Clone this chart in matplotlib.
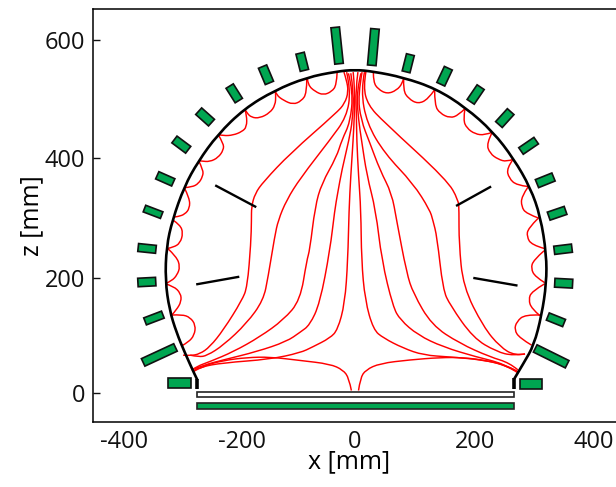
import numpy as np
import matplotlib
matplotlib.use("Agg")
import matplotlib.pyplot as plt
from matplotlib.path import Path
from matplotlib.patches import PathPatch, Rectangle

plt.rcParams['font.family'] = ['Open Sans', 'DejaVu Sans']

GREEN = '#00A651'
RED = '#FF0000'

x_tick_pos = [-388, -190, 0, 202, 402]
x_tick_labels = ['-400', '-200', '0', '200', '400']
z_tick_pos = [0, 195, 399, 599]
z_tick_labels = ['0', '200', '400', '600']

dome = [(-265,22),(-269,30),(-286,68),(-300,102),(-312,141),(-319,191),(-317,248),(-307,293),(-287,350),
        (-264,392),(-231,438),(-186,482),(-135,513),(-81,535),(-31,545),(0,548),(31,545),(81,535),
        (136,516),(186,484),(232,443),(267,397),(295,348),(312,299),(322,235),(322,186),(314,132),
        (301,81),(284,51),(268,24)]

scallops_left = [
 [(-30,543),(-31,522),(-39,511),(-53,505),(-67,511),(-79,522),(-80,533)],
 [(-81,533),(-81,508),(-90,495),(-104,489),(-120,496),(-132,505),(-134,512)],
 [(-134,512),(-133,505),(-134,488),(-143,475),(-160,466),(-174,467),(-182,475),(-185,481)],
 [(-185,481),(-182,471),(-182,451),(-190,443),(-205,437),(-221,436),(-230,438)],
 [(-230,438),(-221,423),(-221,412),(-230,399),(-244,392),(-258,393),(-263,394)],
 [(-263,394),(-255,378),(-256,367),(-263,355),(-274,349),(-287,348)],
 [(-287,348),(-278,330),(-278,313),(-286,303),(-297,299),(-305,298)],
 [(-306,293),(-294,285),(-289,271),(-294,254),(-305,247),(-315,245)],
 [(-315,245),(-300,231),(-294,214),(-299,200),(-308,190),(-319,185)],
 [(-319,185),(-305,181),(-293,169),(-292,155),(-300,141),(-308,132)],
 [(-308,132),(-291,133),(-277,128),(-268,115),(-270,98),(-280,86),(-291,80)],
]
scallops_right = [
 [(31,543),(31,527),(39,515),(54,507),(70,513),(80,525),(82,534)],
 [(82,534),(81,513),(90,499),(106,490),(123,498),(134,514)],
 [(134,514),(134,488),(143,474),(160,466),(174,471),(185,482)],
 [(185,482),(182,463),(188,449),(202,439),(218,437),(231,442)],
 [(231,442),(221,423),(227,406),(241,396),(255,392),(266,396)],
 [(266,396),(255,381),(259,364),(272,352),(291,350)],
 [(291,349),(280,333),(280,316),(288,304),(310,296)],
 [(308,296),(291,279),(289,265),(297,251),(318,245)],
 [(318,241),(300,225),(296,211),(303,197),(319,187)],
 [(319,185),(297,172),(292,158),(297,143),(311,131)],
 [(311,132),(286,133),(272,121),(268,107),(277,93),(297,81)],
]

field_left_1 = [(-18.5,544),(-14,530),(-11,511),(-17,491),(-31,475),(-109,406),(-154,358),(-168,338),(-174,316),
                (-174,293),(-175,254),(-181,180),(-190,157),(-221,107),(-244,78),(-261,66),(-277,63),(-289,64)]
field_left_2 = [(-14,544),(-7,513),(-14,468),(-42,429),(-92,364),(-115,327),(-129,293),(-135,265),(-146,197),
                (-154,157),(-182,118),(-221,81),(-249,63),(-263,61),(-277,64)]
field_left_3 = [(-11,542),(-3,510),(-8,459),(-22,429),(-31,400),(-56,355),(-67,316),(-76,242),(-81,225),(-92,157),
                (-120,124),(-160,95),(-204,70),(-244,53),(-266,45),(-274,39)]
field_left_4 = [(-7,542),(-2,510),(-4,463),(-10,429),(-22,378),(-29,339),(-34,310),(-42,242),(-59,152),(-76,115),
                (-92,103),(-115,87),(-165,70),(-221,56),(-255,47),(-269,41)]
field_left_5 = [(-3,544),(0,513),(-1,471),(-3,429),(-7,369),(-10,310),(-12,225),(-17,152),(-29,107),(-42,93),
                (-71,78),(-92,68),(-143,57),(-222,51),(-260,44),(-274,37)]
field_left_6 = [(-6,4),(-10,25),(-20,39),(-42,49),(-92,55),(-143,61),(-182,60),(-221,55),(-255,46),(-272,36)]

field_right_1 = [(18.5,545),(14,519),(22,488),(48,460),(155,361),(174,327),(175,310),(175,254),(182,180),(216,112),
                 (244,78),(269,63),(286,66)]
field_right_2 = [(16,544),(10,513),(20,457),(50,406),(98,355),(126,310),(131,293),(138,265),(148,175),(160,149),
                 (199,93),(238,70),(266,63),(286,66)]
field_right_3 = [(12,544),(5,505),(10,463),(25,424),(42,378),(62,338),(70,293),(87,203),(98,169),(129,115),
                 (176,84),(227,61),(260,51),(274,39)]
field_right_4 = [(10,542),(2.5,510),(6,463),(11,429),(20,369),(35,310),(45,225),(64,146),(76,124),(106,98),
                 (148,78),(204,61),(249,50),(274,36)]
field_right_5 = [(5,544),(1,513),(2.5,471),(3,429),(6,369),(10,310),(11,225),(17,157),(31,107),(48,93),(81,76),
                 (115,64),(160,61),(215,56),(255,47),(274,34)]
field_right_6 = [(6,4),(9,25),(18,39),(42,50),(92,56),(143,60),(182,60),(221,55),(255,46),(272,37)]

# centre x, centre z, length, thickness, angle of the long side
electrodes = [
 (-30,589,62,14.4,96),(-88.6,561.5,30,14.4,104),(-149.6,539.5,30,15,112.6),(-203,508,29,14.4,122),
 (-252,468,29,15,138),(-292,421,29,14.4,143),(-319,363,29.5,13.5,156),(-339.5,307,31,12,159),
 (-349.6,245,30,13.5,174),(-350,188,30,14.4,183),(-338,127,32,12.7,201),(-329,64.4,60,14,205),
 (-295,17,37.5,15.7,180),
 (31,586.4,62,14.4,85),(89.6,559,30,13.5,76),(150.7,537,30,14.7,65),(203,506,30,14.4,56),
 (252,466,29.5,15,48),(292,419,31,13.5,34.5),(320,360.5,30,14.7,22),(340,304.6,30,14.4,19),
 (350,243.6,30,14,7),(351,186,30,15,-3),(338,124,29.5,13.2,-22),(330,62,60,13.9,-26.5),
 (296,15,37.5,15.7,0),
]

baffles = [
 [(-235,352),(-166,315)],
 [(-267,184),(-194.5,197)],
 [(170,317),(229,350)],
 [(199,195),(273.4,182)],
]
stubs = [[(-265,7),(-265,24)], [(268,7),(268,26)]]
white_plate = (-265.5, -7.3, 533.5, 9.3)
green_plate = (-265.5, -26.6, 533.5, 9.6)


def smooth(ax, pts, color, lw, zorder=2):
    p = np.asarray(pts, float)
    verts, codes = [p[0]], [Path.MOVETO]
    if len(p) == 2:
        verts.append(p[1]); codes.append(Path.LINETO)
    else:
        for i in range(1, len(p) - 1):
            end = p[i + 1] if i == len(p) - 2 else (p[i] + p[i + 1]) / 2
            verts += [p[i], end]
            codes += [Path.CURVE3, Path.CURVE3]
    ax.add_patch(PathPatch(Path(verts, codes), fc='none', ec=color, lw=lw, zorder=zorder))


fig = plt.figure(figsize=(6.16, 4.87), dpi=100)
ax = fig.add_axes([93.3/616, 1 - 421.5/487, (616 - 93.3)/616, (421.5 - 9)/487])
ax.set_xlim(-440, 439)
ax.set_ylim(-48.5, 651)

for s in scallops_left + scallops_right:
    smooth(ax, s, RED, 1.05)
for f in (field_left_1, field_left_2, field_left_3, field_left_4, field_left_5, field_left_6,
          field_right_1, field_right_2, field_right_3, field_right_4, field_right_5, field_right_6):
    smooth(ax, f, RED, 1.05)

smooth(ax, dome, 'black', 1.9, zorder=3)
for b in baffles:
    ax.plot(*zip(*b), color='black', lw=1.7, solid_capstyle='butt', zorder=3)
for s in stubs:
    ax.plot(*zip(*s), color='black', lw=2.6, solid_capstyle='butt', zorder=3)

for cx, cz, length, thick, ang in electrodes:
    ax.add_patch(Rectangle((cx - length/2, cz - thick/2), length, thick, angle=ang, rotation_point='center',
                           fc=GREEN, ec='#111111', lw=1.2, zorder=4))
ax.add_patch(Rectangle(white_plate[:2], white_plate[2], white_plate[3], fc='white', ec='#222222', lw=1.2, zorder=4))
ax.add_patch(Rectangle(green_plate[:2], green_plate[2], green_plate[3], fc=GREEN, ec='#222222', lw=1.2, zorder=4))

ax.spines['right'].set_visible(False)
for sp in ('left', 'top', 'bottom'):
    ax.spines[sp].set_linewidth(1.1)
ax.set_xticks(x_tick_pos, x_tick_labels)
ax.set_yticks(z_tick_pos, z_tick_labels)
ax.tick_params(axis='x', length=0, pad=6, labelsize=17, colors='#111111')
ax.tick_params(axis='y', direction='in', length=5, width=1.0, pad=6, labelsize=17, colors='#111111')
ax.set_xlabel('x [mm]', fontsize=18, labelpad=-3, x=0.49)
ax.set_ylabel('z [mm]', fontsize=18, labelpad=0, y=0.5)
fig.savefig('out.png', dpi=100)
